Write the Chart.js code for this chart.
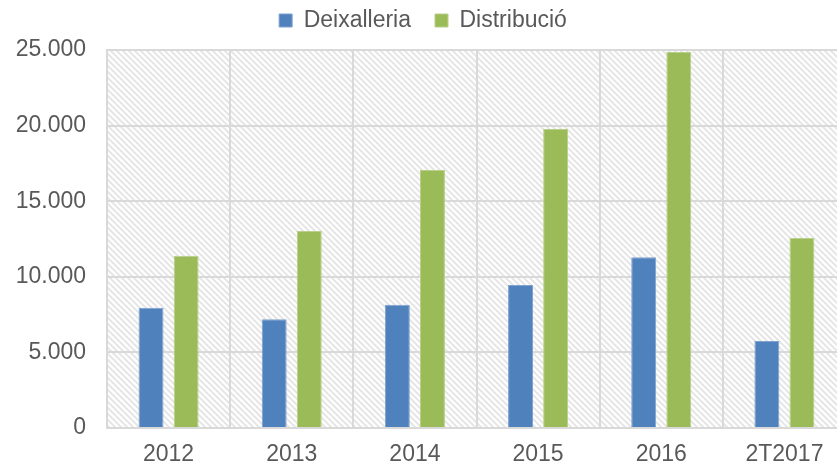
<!DOCTYPE html>
<html>
<head>
<meta charset="utf-8">
<script src="https://cdn.jsdelivr.net/npm/chart.js@4/dist/chart.umd.min.js"></script>
<style>
  html, body { margin: 0; padding: 0; background: #fff; overflow: hidden; }
  #wrap { width: 837px; height: 468px; overflow: hidden; position: relative; }
  #box { width: 850px; height: 468px; position: absolute; left: 0; top: 0; }
</style>
</head>
<body>
<div id="wrap"><div id="box"><canvas id="myChart"></canvas></div></div>
<script>
const categories = ['2012', '2013', '2014', '2015', '2016', '2T2017']
const deixalleria = [7950, 7200, 8150, 9450, 11300, 5750]
const distribucio = [11400, 13030, 17070, 19780, 24870, 12570]
const yTicks = [0, 5000, 10000, 15000, 20000, 25000]

const canvas = document.getElementById('myChart')
const FONT = "'Liberation Sans', Arial, sans-serif"
const LEGEND_PAD = 24

function makeHatch() {
    const tile = document.createElement('canvas')
    tile.width = 6
    tile.height = 6
    const c = tile.getContext('2d')
    c.fillStyle = '#ffffff'
    c.fillRect(0, 0, 6, 6)
    c.strokeStyle = '#e6e6e6'
    c.lineWidth = 2
    c.beginPath()
    c.moveTo(-1, -1); c.lineTo(7, 7)
    c.moveTo(-4, 2); c.lineTo(4, 10)
    c.moveTo(2, -4); c.lineTo(10, 4)
    c.stroke()
    return canvas.getContext('2d').createPattern(tile, 'repeat')
}

const hatchBg = {
    id: 'hatchBg',
    afterInit(chart) {
        // wide gap between legend items, but keep legend and plot top where they were
        const legend = chart.legend
        const fit = legend.fit
        legend.fit = function () {
            fit.call(this)
            this.height += 16 - LEGEND_PAD
        }
        const draw = legend.draw
        legend.draw = function () {
            const ctx = this.ctx
            ctx.save()
            ctx.translate(0, 8 - LEGEND_PAD)
            draw.call(this)
            ctx.restore()
        }
    },
    beforeDraw(chart) {
        const { ctx, chartArea } = chart
        ctx.save()
        ctx.fillStyle = makeHatch()
        ctx.fillRect(chartArea.left, chartArea.top, chartArea.right - chartArea.left, chartArea.bottom - chartArea.top)
        ctx.restore()
    }
}

const fmt = v => String(v).replace(/\B(?=(\d{3})+(?!\d))/g, '.')

const config = {
    type: 'bar',
    data: {
        labels: categories,
        datasets: [{
            label: 'Deixalleria',
            data: deixalleria,
            backgroundColor: '#4f81bd',
            borderColor: '#7fa2d0',
            borderWidth: 1
        }, {
            label: 'Distribució',
            data: distribucio,
            backgroundColor: '#9bbb59',
            borderColor: '#b8d08a',
            borderWidth: 1
        }]
    },
    options: {
        responsive: true,
        maintainAspectRatio: false,
        animation: false,
        categoryPercentage: 0.57,
        barPercentage: 0.71,
        layout: { padding: { top: 1, right: 4, left: 0, bottom: 0 } },
        plugins: {
            legend: {
                position: 'top',
                labels: {
                    boxWidth: 13,
                    boxHeight: 13,
                    padding: LEGEND_PAD,
                    color: '#595959',
                    font: { family: FONT, size: 23 }
                }
            },
            tooltip: { enabled: false }
        },
        scales: {
            x: {
                grid: { color: '#d9d9d9', lineWidth: 2, drawTicks: false, offset: true },
                border: { display: false },
                ticks: { color: '#595959', padding: 13, font: { family: FONT, size: 23 } },
                afterFit: s => { s.height = 40 }
            },
            y: {
                min: 0,
                max: 25000,
                afterBuildTicks: s => { s.ticks = yTicks.map(v => ({ value: v })) },
                grid: { color: '#d9d9d9', lineWidth: 2, drawTicks: false },
                border: { display: true, color: '#d9d9d9', width: 2 },
                ticks: {
                    color: '#595959',
                    padding: 21,
                    font: { family: FONT, size: 23 },
                    callback: v => fmt(v)
                },
                afterFit: s => { s.width = 107 }
            }
        }
    },
    plugins: [hatchBg]
}

const myChart = new Chart(canvas, config)
</script>
</body>
</html>
